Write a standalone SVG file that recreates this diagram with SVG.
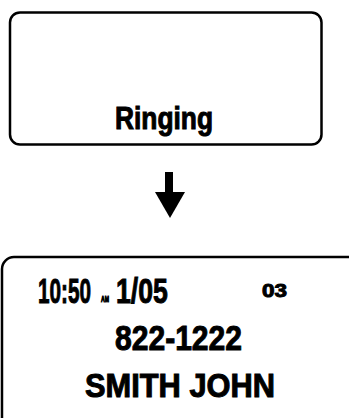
<svg xmlns="http://www.w3.org/2000/svg" width="349" height="418" viewBox="0 0 349 418">
<style>
.box{fill:#fff;stroke:#000;stroke-width:2.5}
.t{font-family:"Liberation Sans",Arial,sans-serif;font-weight:bold;fill:#000;stroke:#000;stroke-width:1}
</style>
<rect width="349" height="418" fill="#fff"/>
<g id="ringing">
<rect class="box" x="10" y="12.5" width="311.5" height="132" rx="10"/>
<text class="t" x="115" y="129" font-size="31" textLength="98" lengthAdjust="spacingAndGlyphs">Ringing</text>
</g>
<g id="connectors">
<rect x="165" y="172" width="8" height="22" fill="#000"/>
<polygon points="155,192 185,192 170,218" fill="#000"/>
</g>
<g id="callerid">
<rect class="box" x="2" y="257" width="380" height="200" rx="12"/>
<text class="t" transform="translate(38,303) scale(0.576,1)" font-size="36">10:50</text>
<text class="t" transform="translate(101,302) scale(0.57,1)" font-size="9" stroke-width="0.4">AM</text>
<text class="t" transform="translate(116,303) scale(0.74,1)" font-size="36">1/05</text>
<text class="t" x="262" y="297" font-size="19" textLength="25" lengthAdjust="spacingAndGlyphs">03</text>
<text class="t" x="115" y="350" font-size="35" textLength="127" lengthAdjust="spacingAndGlyphs">822-1222</text>
<text class="t" x="85" y="397" font-size="33" textLength="190" lengthAdjust="spacingAndGlyphs">SMITH JOHN</text>
</g>
</svg>
